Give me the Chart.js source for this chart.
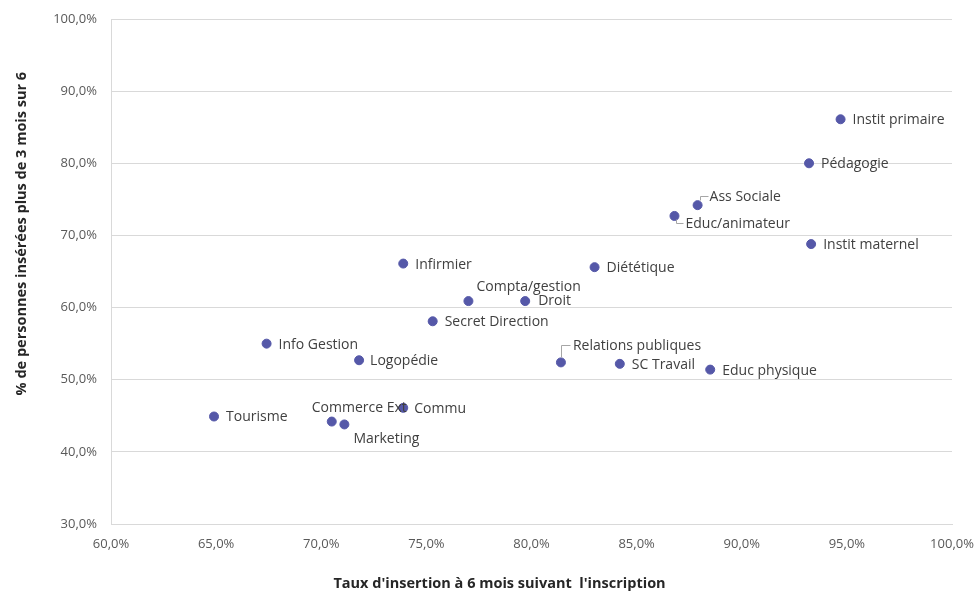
<!DOCTYPE html>
<html lang="fr">
<head>
<meta charset="utf-8">
<title>Taux d'insertion par formation</title>
<script src="https://cdn.jsdelivr.net/npm/chart.js@4.4.1/dist/chart.umd.min.js"></script>
<style>
  html, body { margin: 0; padding: 0; background: #ffffff; }
  #wrap { width: 978px; height: 594px; position: relative; }
</style>
</head>
<body>
<div id="wrap"><canvas id="chart"></canvas></div>
<script>
// Formations
const formations = [
  'Instit primaire', 'Pédagogie', 'Ass Sociale', 'Educ/animateur', 'Instit maternel',
  'Diététique', 'Infirmier', 'Compta/gestion', 'Droit', 'Secret Direction',
  'Info Gestion', 'Logopédie', 'Relations publiques', 'SC Travail', 'Educ physique',
  'Tourisme', 'Commerce Ext', 'Marketing', 'Commu'
];
// Taux d'insertion à 6 mois (%)
const tauxInsertion = [
  94.7, 93.2, 87.9, 86.8, 93.3,
  83.0, 73.9, 77.0, 79.7, 75.3,
  67.4, 71.8, 81.4, 84.2, 88.5,
  64.9, 70.5, 71.1, 73.9
];
// % de personnes insérées plus de 3 mois sur 6
const inseresPlus3Mois = [
  86.1, 80.0, 74.2, 72.7, 68.8,
  65.6, 66.1, 60.9, 60.9, 58.1,
  55.0, 52.7, 52.4, 52.2, 51.4,
  44.9, 44.2, 43.8, 46.1
];
// Axis ticks
const xTicks = [60, 65, 70, 75, 80, 85, 90, 95, 100];
const yTicks = [30, 40, 50, 60, 70, 80, 90, 100];

const pointColor = '#5558a8';
const fontFamily = '"Open Sans", Lato, sans-serif';
const fmtPct = v => v.toFixed(1).replace('.', ',') + '%';

// Label placement: offset from the marker, plus optional leader line
const labelPlacement = {
  'Compta/gestion':      { dx: 8,   dy: -15 },
  'Droit':               { dx: 13,  dy: -1 },
  'Commerce Ext':        { dx: -20, dy: -15 },
  'Marketing':           { dx: 9,   dy: 14 },
  'Commu':               { dx: 11,  dy: 0 },
  'Ass Sociale':         { dx: 12,  dy: -9,  leader: [[2, -5], [2, -9], [10, -9]] },
  'Educ/animateur':      { dx: 11,  dy: 7,   leader: [[2, 3], [2, 7], [9, 7]] },
  'Relations publiques': { dx: 12,  dy: -17, leader: [[0, -5], [0, -17], [9, -17]] },
  'Logopédie':           { dx: 11,  dy: 0 }
};

const pointLabels = {
  id: 'pointLabels',
  afterDatasetsDraw(chart) {
    const ctx = chart.ctx;
    const meta = chart.getDatasetMeta(0);
    ctx.save();
    ctx.font = '14px ' + fontFamily;
    ctx.fillStyle = '#404040';
    ctx.textAlign = 'left';
    ctx.textBaseline = 'middle';
    meta.data.forEach((pt, i) => {
      const name = formations[i];
      const p = labelPlacement[name] || { dx: 12, dy: 0 };
      if (p.leader) {
        ctx.beginPath();
        ctx.strokeStyle = '#a6a6a6';
        ctx.lineWidth = 1;
        p.leader.forEach(([lx, ly], k) => {
          const X = Math.round(pt.x + lx) + 0.5, Y = Math.round(pt.y + ly) + 0.5;
          if (k === 0) ctx.moveTo(X, Y); else ctx.lineTo(X, Y);
        });
        ctx.stroke();
      }
      ctx.fillText(name, pt.x + p.dx, pt.y + p.dy + 1);
    });
    ctx.restore();
  }
};

const axisTitles = {
  id: 'axisTitles',
  afterDraw(chart) {
    const ctx = chart.ctx;
    const a = chart.chartArea;
    ctx.save();
    ctx.font = 'bold 14.5px ' + fontFamily;
    ctx.fillStyle = '#262626';
    ctx.textAlign = 'center';
    ctx.textBaseline = 'middle';
    ctx.fillText("Taux d'insertion à 6 mois suivant  l'inscription", a.left + (a.right - a.left) * 0.462, a.bottom + 60);
    ctx.translate(22, a.top + (a.bottom - a.top) * 0.425);
    ctx.rotate(-Math.PI / 2);
    ctx.fillText('% de personnes insérées plus de 3 mois sur 6', 0, 0);
    ctx.restore();
  }
};

new Chart(document.getElementById('chart'), {
  type: 'scatter',
  data: {
    datasets: [{
      label: 'Formations',
      data: formations.map((f, i) => ({ x: tauxInsertion[i], y: inseresPlus3Mois[i] })),
      backgroundColor: pointColor,
      borderColor: pointColor,
      pointRadius: 4.5,
      pointHoverRadius: 4.5
    }]
  },
  options: {
    responsive: true,
    maintainAspectRatio: false,
    animation: false,
    layout: { padding: { left: 0, top: 19, right: 26, bottom: 0 } },
    plugins: {
      legend: { display: false },
      tooltip: { enabled: false }
    },
    scales: {
      x: {
        type: 'linear',
        min: xTicks[0],
        max: xTicks[xTicks.length - 1],
        afterBuildTicks: s => { s.ticks = xTicks.map(v => ({ value: v })); },
        afterFit: s => { s.height = 70; s.paddingLeft = 0; s.paddingRight = 0; },
        ticks: {
          callback: v => fmtPct(v),
          color: '#595959',
          font: { family: fontFamily, size: 13 },
          padding: 12,
          maxRotation: 0
        },
        grid: { display: false, drawTicks: false },
        border: { display: true, color: '#d9d9d9' }
      },
      y: {
        type: 'linear',
        min: yTicks[0],
        max: yTicks[yTicks.length - 1],
        afterBuildTicks: s => { s.ticks = yTicks.map(v => ({ value: v })); },
        afterFit: s => { s.width = 111; s.paddingTop = 0; s.paddingBottom = 0; },
        ticks: {
          callback: v => fmtPct(v),
          color: '#595959',
          font: { family: fontFamily, size: 13 },
          padding: 14
        },
        grid: { color: '#d9d9d9', drawTicks: false },
        border: { display: true, color: '#d9d9d9' }
      }
    }
  },
  plugins: [pointLabels, axisTitles]
});
</script>
</body>
</html>
